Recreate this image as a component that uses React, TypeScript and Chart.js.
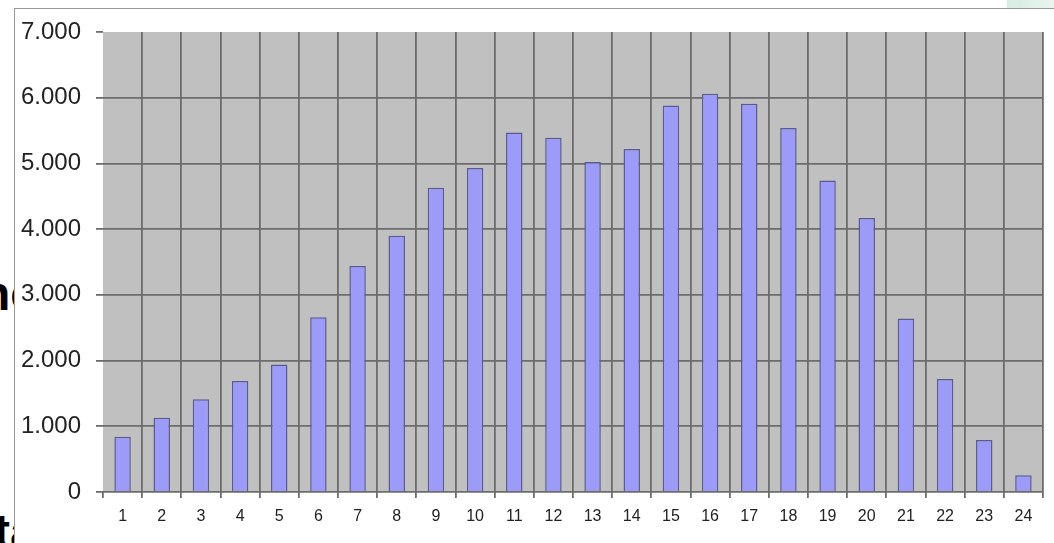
import React, { useEffect, useRef } from "react";
import { Chart, registerables } from "chart.js";

Chart.register(...registerables);

const categories = ["1","2","3","4","5","6","7","8","9","10","11","12","13","14","15","16","17","18","19","20","21","22","23","24"];
const values = [840, 1130, 1410, 1690, 1940, 2660, 3440, 3900, 4630, 4930, 5470, 5390, 5020, 5220, 5880, 6060, 5910, 5540, 4740, 4170, 2640, 1720, 790, 255];
const yTickValues = [0, 1000, 2000, 3000, 4000, 5000, 6000, 7000];
const yTickLabels = ["0", "1.000", "2.000", "3.000", "4.000", "5.000", "6.000", "7.000"];

const FONT = "'Liberation Sans', Arial, sans-serif";
const GRID = "#6c6c6c";

const plotBg = {
  id: "plotBg",
  beforeDraw(chart: any) {
    const { ctx, chartArea } = chart;
    if (!chartArea) return;
    ctx.save();
    ctx.fillStyle = "#C0C0C0";
    ctx.fillRect(chartArea.left, chartArea.top, chartArea.right - chartArea.left, chartArea.bottom - chartArea.top);
    ctx.restore();
  },
};

export default function App() {
  const ref = useRef<HTMLCanvasElement | null>(null);

  useEffect(() => {
    if (!ref.current) return;
    const chart = new Chart(ref.current, {
      type: "bar",
      data: {
        labels: categories,
        datasets: [
          {
            data: values,
            backgroundColor: "#9C9CF8",
            borderColor: "#5A5A94",
            borderWidth: 1.5,
            barPercentage: 0.42,
            categoryPercentage: 1,
          },
        ],
      },
      options: {
        animation: false,
        responsive: false,
        layout: { padding: { top: 32, right: 11, left: 0, bottom: 0 } },
        plugins: { legend: { display: false }, tooltip: { enabled: false } },
        scales: {
          x: {
            offset: true,
            grid: {
              offset: true,
              color: (c: any) => (c.index === 0 || c.index >= categories.length ? "rgba(0,0,0,0)" : GRID),
              tickColor: GRID,
              lineWidth: 1.8,
              tickLength: 6,
            },
            border: { display: false },
            ticks: {
              color: "#222",
              font: { family: FONT, size: 16 },
              padding: 9,
              maxRotation: 0,
              autoSkip: false,
            },
            afterFit: (s: any) => {
              s.height = 51;
            },
          },
          y: {
            min: 0,
            max: 7000,
            afterBuildTicks: (s: any) => {
              s.ticks = yTickValues.map((v) => ({ value: v }));
            },
            grid: {
              color: (c: any) => (c.tick && c.tick.value === 7000 ? "rgba(0,0,0,0)" : GRID),
              tickColor: GRID,
              lineWidth: 1.8,
              tickLength: 7,
            },
            border: { display: false },
            ticks: {
              color: "#222",
              font: { family: FONT, size: 24 },
              padding: 15,
              callback: (v: any) => {
                const i = yTickValues.indexOf(Number(v));
                return i >= 0 ? yTickLabels[i] : "";
              },
            },
            afterFit: (s: any) => {
              s.width = 103;
            },
          },
        },
      },
      plugins: [plotBg],
    });
    return () => chart.destroy();
  }, []);

  return (
    <div
      style={{
        position: "fixed",
        left: 0,
        top: 0,
        width: 1054,
        height: 543,
        overflow: "hidden",
        background: "#fff",
      }}
    >
      <div
        style={{
          position: "absolute",
          left: 1007,
          top: 0,
          width: 47,
          height: 8,
          background: "linear-gradient(90deg, #d6ece2, #eaf5f0)",
        }}
      />
      <span
        style={{
          position: "absolute",
          left: -19,
          top: 264,
          fontFamily: FONT,
          fontWeight: "bold",
          fontSize: 48,
          lineHeight: "60px",
          color: "#000",
          whiteSpace: "nowrap",
        }}
      >
        nc
      </span>
      <span
        style={{
          position: "absolute",
          left: -6,
          top: 502,
          fontFamily: FONT,
          fontWeight: "bold",
          fontSize: 48,
          lineHeight: "60px",
          color: "#000",
          whiteSpace: "nowrap",
        }}
      >
        ta
      </span>
      <div
        style={{
          position: "absolute",
          left: 14,
          top: 8,
          right: 0,
          bottom: 0,
          background: "#fff",
          borderLeft: "1.5px solid #9a9a9a",
          borderTop: "1.5px solid #9a9a9a",
        }}
      />
      <canvas
        ref={ref}
        width={1054}
        height={543}
        style={{ position: "absolute", left: 0, top: 0, width: 1054, height: 543 }}
      />
    </div>
  );
}
